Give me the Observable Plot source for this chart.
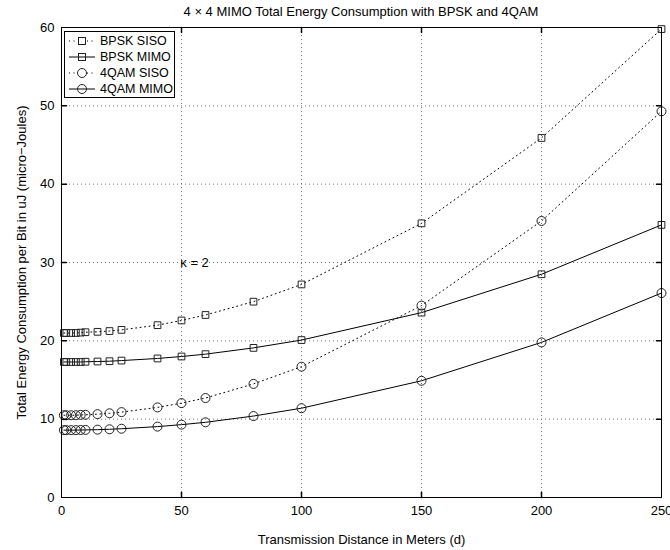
<!DOCTYPE html>
<html>
<head>
<meta charset="utf-8">
<script src="https://cdn.jsdelivr.net/npm/d3@7"></script>
<script src="https://cdn.jsdelivr.net/npm/@observablehq/plot@0.6"></script>
<style>
  body { margin: 0; background: #fff; font-family: "Liberation Sans", Arial, sans-serif; }
  #wrap { position: relative; width: 670px; height: 550px; }
  #title { height: 18px; line-height: 24px; font-size: 13px; text-align: center; padding-left: 52px; color: #000; white-space: nowrap; }
  #legend { position: absolute; left: 64px; top: 31px; width: 111px; height: 67px; border: 1px solid #000; background: #fff; box-sizing: border-box; padding-top: 1px; }
  .row { height: 16px; display: flex; align-items: center; font-size: 12.5px; color: #000; white-space: nowrap; }
  .row svg { margin-left: 3px; margin-right: 4px; flex: none; }
</style>
</head>
<body>
<div id="wrap">
  <div id="title">4 × 4 MIMO Total Energy Consumption with BPSK and 4QAM</div>
  <div id="chart"></div>
  <div id="legend"></div>
</div>
<script>
// ---- data ----
const distances = [1, 2, 4, 6, 8, 10, 15, 20, 25, 40, 50, 60, 80, 100, 150, 200, 250];
const bpskSiso  = [21.0, 21.0, 21.0, 21.0, 21.05, 21.1, 21.15, 21.25, 21.4, 22.0, 22.6, 23.3, 25.0, 27.2, 35.0, 45.9, 59.8];
const bpskMimo  = [17.3, 17.3, 17.3, 17.3, 17.3, 17.33, 17.36, 17.4, 17.48, 17.75, 18.0, 18.3, 19.1, 20.1, 23.6, 28.5, 34.8];
const qamSiso   = [10.5, 10.5, 10.5, 10.5, 10.55, 10.56, 10.64, 10.75, 10.9, 11.5, 12.05, 12.7, 14.5, 16.7, 24.5, 35.3, 49.3];
const qamMimo   = [8.6, 8.6, 8.6, 8.6, 8.62, 8.63, 8.66, 8.71, 8.78, 9.05, 9.3, 9.6, 10.4, 11.4, 14.9, 19.8, 26.1];
const seriesNames = ["BPSK SISO", "BPSK MIMO", "4QAM SISO", "4QAM MIMO"];
const seriesValues = [bpskSiso, bpskMimo, qamSiso, qamMimo];
const seriesSymbols = ["square", "square", "circle", "circle"];
const seriesDotted = [true, false, true, false];
const xTicks = [0, 50, 100, 150, 200, 250];
const yTicks = [0, 10, 20, 30, 40, 50, 60];
const annotationText = ["κ = 2"];
const annotationPos = [49.5, 30];

const rows = [];
seriesNames.forEach((name, s) => {
  distances.forEach((d, i) => rows.push({ series: name, s, d, e: seriesValues[s][i] }));
});

const tickShape = { draw(context, l) { context.moveTo(0, 0); context.lineTo(0, -l); } };
const innerX = xTicks.slice(1, -1);
const innerY = yTicks.slice(1, -1);

const marks = [
  Plot.gridX(innerX, { stroke: "#777", strokeOpacity: 1, strokeDasharray: "1,3" }),
  Plot.gridY(innerY, { stroke: "#777", strokeOpacity: 1, strokeDasharray: "1,3" }),
];
seriesNames.forEach((name, s) => {
  const data = rows.filter(r => r.s === s);
  marks.push(Plot.line(data, { x: "d", y: "e", stroke: "#000", strokeWidth: 1, strokeDasharray: seriesDotted[s] ? "1,3.5" : null }));
  marks.push(Plot.dot(data, { x: "d", y: "e", symbol: () => seriesSymbols[s], r: seriesSymbols[s] === "square" ? 3.8 : 4.5, stroke: "#222", strokeWidth: 1, fill: "none" }));
});
marks.push(
  Plot.vector(innerX, { x: d => d, y: () => 0, length: 5, rotate: 0, anchor: "start", shape: tickShape, stroke: "#000" }),
  Plot.vector(innerX, { x: d => d, y: () => 60, length: 5, rotate: 180, anchor: "start", shape: tickShape, stroke: "#000" }),
  Plot.vector(innerY, { x: () => 0, y: d => d, length: 5, rotate: 90, anchor: "start", shape: tickShape, stroke: "#000" }),
  Plot.vector(innerY, { x: () => 250, y: d => d, length: 5, rotate: -90, anchor: "start", shape: tickShape, stroke: "#000" }),
  Plot.text(annotationText, { x: () => annotationPos[0], y: () => annotationPos[1], text: d => d, textAnchor: "start", fontSize: 13, fill: "#000" }),
  Plot.frame({ stroke: "#000", strokeWidth: 1 }),
  Plot.axisX(xTicks, { tickSize: 0, tickPadding: 8, fontSize: 13, label: "Transmission Distance in Meters (d)", labelAnchor: "center", labelArrow: "none", labelOffset: 46 }),
  Plot.axisY(yTicks, { tickSize: 0, tickPadding: 7, fontSize: 13, label: "Total Energy Consumption per Bit in uJ (micro−Joules)", labelAnchor: "center", labelArrow: "none", labelOffset: 45 })
);

const chart = Plot.plot({
  width: 670,
  height: 532,
  marginTop: 9,
  marginBottom: 53,
  marginLeft: 61,
  marginRight: 9,
  style: { fontFamily: "'Liberation Sans', Arial, sans-serif", fontSize: "13px", color: "#000", background: "#fff", overflow: "visible" },
  x: { domain: [0, 250] },
  y: { domain: [0, 60] },
  marks
});
document.getElementById("chart").appendChild(chart);

// legend
const legend = document.getElementById("legend");
seriesNames.forEach((name, s) => {
  const row = document.createElement("div");
  row.className = "row";
  const ns = "http://www.w3.org/2000/svg";
  const svg = document.createElementNS(ns, "svg");
  svg.setAttribute("width", "28"); svg.setAttribute("height", "14");
  const line = document.createElementNS(ns, "line");
  line.setAttribute("x1", "1"); line.setAttribute("x2", "27"); line.setAttribute("y1", "7"); line.setAttribute("y2", "7");
  line.setAttribute("stroke", "#000");
  if (seriesDotted[s]) line.setAttribute("stroke-dasharray", "1,3.5");
  svg.appendChild(line);
  let m;
  if (seriesSymbols[s] === "square") {
    m = document.createElementNS(ns, "rect");
    m.setAttribute("x", "10.5"); m.setAttribute("y", "3.5"); m.setAttribute("width", "7"); m.setAttribute("height", "7");
  } else {
    m = document.createElementNS(ns, "circle");
    m.setAttribute("cx", "14"); m.setAttribute("cy", "7"); m.setAttribute("r", "4.5");
  }
  m.setAttribute("fill", seriesDotted[s] ? "#fff" : "none"); m.setAttribute("stroke", "#222");
  svg.appendChild(m);
  row.appendChild(svg);
  const t = document.createElement("span");
  t.textContent = name;
  row.appendChild(t);
  legend.appendChild(row);
});
</script>
</body>
</html>
